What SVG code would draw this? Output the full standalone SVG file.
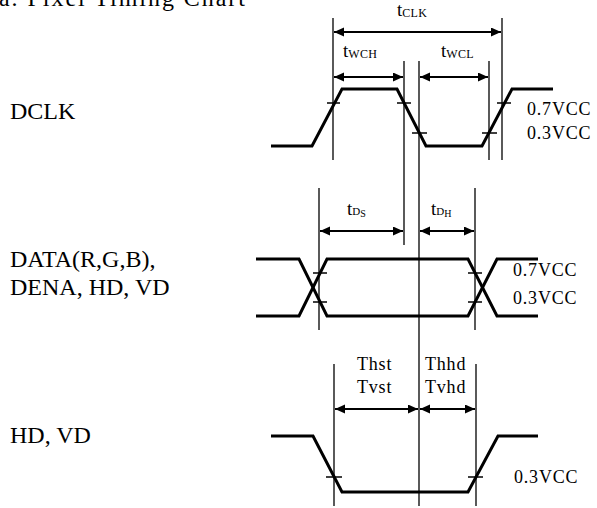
<svg xmlns="http://www.w3.org/2000/svg" width="597" height="508" viewBox="0 0 597 508">
<style>
text{font-family:"Liberation Serif","Times New Roman",serif;fill:#000}
.big{font-size:24px}
.sm{font-size:18px;letter-spacing:0.8px}
.tt{font-size:19px}
.sub{font-size:12px;letter-spacing:0.3px}
.subd{font-size:11px}
.sub2{font-size:10px}
.sig{fill:none;stroke:#000;stroke-width:3;stroke-linejoin:miter}
.ref{stroke:#000;stroke-width:1.3;fill:none}
.tick{stroke:#000;stroke-width:1.5}
.dim{stroke:#000;stroke-width:2;marker-start:url(#ah);marker-end:url(#ah)}
</style>
<defs>
<marker id="ah" markerUnits="userSpaceOnUse" markerWidth="11" markerHeight="10" refX="10" refY="4.5" orient="auto-start-reverse" viewBox="0 0 11 10">
<path d="M0,0 L10,4.5 L0,9 z" fill="#000"/>
</marker>
</defs>
<rect width="597" height="508" fill="#fff"/>
<text id="title" class="big" x="-1" y="6" textLength="246">a. Pixel Timing Chart</text>

<g id="label-dclk"><text class="big" x="10" y="119">DCLK</text></g>
<g id="label-data"><text class="big" x="10" y="267">DATA(R,G,B),</text><text class="big" x="10" y="295">DENA, HD, VD</text></g>
<g id="label-hdvd"><text class="big" x="10" y="443">HD, VD</text></g>

<g id="dclk-signal">
<polyline class="sig" points="271,146 312,146 342,89 397,89 426,146 482,146 512,89 553,89"/>
<line class="tick" x1="327" y1="103" x2="340" y2="103"/>
<line class="tick" x1="397" y1="103" x2="411" y2="103"/>
<line class="tick" x1="497" y1="103" x2="511" y2="103"/>
<line class="tick" x1="412" y1="133" x2="427" y2="133"/>
<line class="tick" x1="482" y1="133" x2="497" y2="133"/>
<text class="sm" x="527" y="115">0.7VCC</text>
<text class="sm" x="527" y="139">0.3VCC</text>
</g>

<g id="data-signal">
<polyline class="sig" points="256,259 299,259 327,316 468,316 497,259 538,259"/>
<polyline class="sig" points="256,316 299,316 327,259 468,259 497,316 538,316"/>
<line class="tick" x1="313" y1="273" x2="327" y2="273"/>
<line class="tick" x1="313" y1="302" x2="327" y2="302"/>
<line class="tick" x1="468" y1="273" x2="482" y2="273"/>
<line class="tick" x1="468" y1="302" x2="482" y2="302"/>
<text class="sm" x="513" y="276">0.7VCC</text>
<text class="sm" x="513" y="304">0.3VCC</text>
</g>

<g id="hd-signal">
<polyline class="sig" points="271,436 313,436 342,492 468,492 498,436 538,436"/>
<line class="tick" x1="326" y1="477" x2="342" y2="477"/>
<line class="tick" x1="468" y1="477" x2="483" y2="477"/>
<text class="sm" x="514" y="483">0.3VCC</text>
</g>

<g id="connectors">
<line class="ref" x1="333" y1="18" x2="333" y2="160"/>
<line class="ref" x1="502" y1="18" x2="502" y2="160"/>
<line class="ref" x1="404" y1="61" x2="404" y2="245"/>
<line class="ref" x1="419" y1="61" x2="419" y2="506"/>
<line class="ref" x1="489" y1="61" x2="489" y2="160"/>
<line class="ref" x1="319" y1="188" x2="319" y2="330"/>
<line class="ref" x1="475" y1="188" x2="475" y2="330"/>
<line class="ref" x1="334" y1="364" x2="334" y2="506"/>
<line class="ref" x1="476" y1="364" x2="476" y2="506"/>

<line class="dim" x1="334" y1="32" x2="501" y2="32"/>
<line class="dim" x1="334" y1="77" x2="403" y2="77"/>
<line class="dim" x1="420" y1="77" x2="488" y2="77"/>
<line class="dim" x1="320" y1="231" x2="403" y2="231"/>
<line class="dim" x1="420" y1="231" x2="474" y2="231"/>
<line class="dim" x1="335" y1="409" x2="418" y2="409"/>
<line class="dim" x1="420" y1="409" x2="475" y2="409"/>
</g>

<g id="timing-labels">
<text class="tt" x="397" y="16">t<tspan class="sub" dy="1">CLK</tspan></text>
<text class="tt" x="343" y="57">t<tspan class="sub" dy="1">WCH</tspan></text>
<text class="tt" x="441" y="57">t<tspan class="sub" dy="1">WCL</tspan></text>
<text class="tt" x="347" y="215">t<tspan class="subd" dy="0">D</tspan><tspan class="sub2" dy="2">S</tspan></text>
<text class="tt" x="431" y="215">t<tspan class="subd" dy="0">D</tspan><tspan class="sub2" dy="2">H</tspan></text>
<text class="sm" x="357" y="370">Thst</text>
<text class="sm" x="357" y="393">Tvst</text>
<text class="sm" x="425" y="370">Thhd</text>
<text class="sm" x="425" y="393">Tvhd</text>
</g>
</svg>
